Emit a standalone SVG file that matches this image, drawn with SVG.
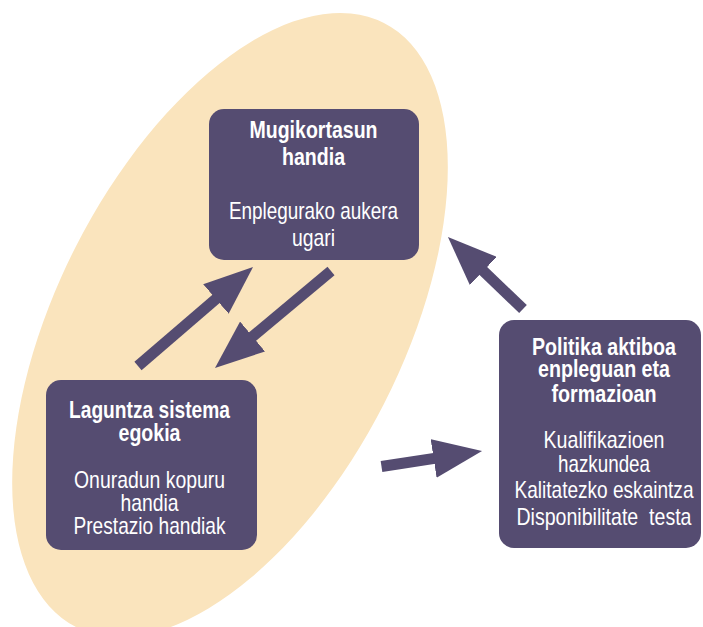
<svg xmlns="http://www.w3.org/2000/svg" width="703" height="627" viewBox="0 0 703 627">
  <style>
    .node { fill: #554C71; }
    .t { font-family: "Liberation Sans", Arial, sans-serif; font-size: 24px; fill: #FFFFFF; text-anchor: middle; }
    .b { font-weight: bold; }
    .conn { stroke: #554C71; stroke-width: 11; fill: none; }
  </style>
  <defs>
    <marker id="head" viewBox="0 0 49 39" refX="19" refY="19.5" markerWidth="49" markerHeight="39" markerUnits="userSpaceOnUse" orient="auto">
      <path d="M0,0 L49,19.5 L0,39 Z" fill="#554C71"/>
    </marker>
  </defs>
  <rect width="703" height="627" fill="#FFFFFF"/>
  <ellipse id="zone" cx="230" cy="325" rx="339" ry="173" transform="rotate(-63 230 325)" fill="#FAE4BD"/>

  <g id="connectors">
    <line class="conn" x1="138" y1="366" x2="230.3" y2="286.6" marker-end="url(#head)"/>
    <line class="conn" x1="331" y1="271" x2="238" y2="348.7" marker-end="url(#head)"/>
    <line class="conn" x1="523" y1="309" x2="469.6" y2="257.8" marker-end="url(#head)"/>
    <line class="conn" x1="381.5" y1="466.5" x2="452.4" y2="455.6" marker-end="url(#head)"/>
  </g>

  <g id="mugikortasun">
    <rect class="node" x="209" y="109" width="210" height="151" rx="15"/>
    <text class="t b" x="313.5" y="138" textLength="128" lengthAdjust="spacingAndGlyphs">Mugikortasun</text>
    <text class="t b" x="313.5" y="165" textLength="63" lengthAdjust="spacingAndGlyphs">handia</text>
    <text class="t" x="313.5" y="219" textLength="169" lengthAdjust="spacingAndGlyphs">Enplegurako aukera</text>
    <text class="t" x="313.5" y="246" textLength="43" lengthAdjust="spacingAndGlyphs">ugari</text>
  </g>

  <g id="laguntza">
    <rect class="node" x="46" y="380" width="211" height="170" rx="15"/>
    <text class="t b" x="149.5" y="418" textLength="161" lengthAdjust="spacingAndGlyphs">Laguntza sistema</text>
    <text class="t b" x="149.5" y="441" textLength="62" lengthAdjust="spacingAndGlyphs">egokia</text>
    <text class="t" x="149.5" y="488" textLength="151" lengthAdjust="spacingAndGlyphs">Onuradun kopuru</text>
    <text class="t" x="149.5" y="511" textLength="58" lengthAdjust="spacingAndGlyphs">handia</text>
    <text class="t" x="149.5" y="534" textLength="152" lengthAdjust="spacingAndGlyphs">Prestazio handiak</text>
  </g>

  <g id="politika">
    <rect class="node" x="499" y="320" width="202" height="228" rx="15"/>
    <text class="t b" x="604" y="355" textLength="144" lengthAdjust="spacingAndGlyphs">Politika aktiboa</text>
    <text class="t b" x="604" y="377" textLength="132" lengthAdjust="spacingAndGlyphs">enpleguan eta</text>
    <text class="t b" x="604" y="402" textLength="105" lengthAdjust="spacingAndGlyphs">formazioan</text>
    <text class="t" x="604" y="448" textLength="121" lengthAdjust="spacingAndGlyphs">Kualifikazioen</text>
    <text class="t" x="604" y="472" textLength="92" lengthAdjust="spacingAndGlyphs">hazkundea</text>
    <text class="t" x="604" y="498" textLength="179" lengthAdjust="spacingAndGlyphs">Kalitatezko eskaintza</text>
    <text class="t" x="604" y="525" textLength="175" lengthAdjust="spacingAndGlyphs" xml:space="preserve">Disponibilitate  testa</text>
  </g>
</svg>
